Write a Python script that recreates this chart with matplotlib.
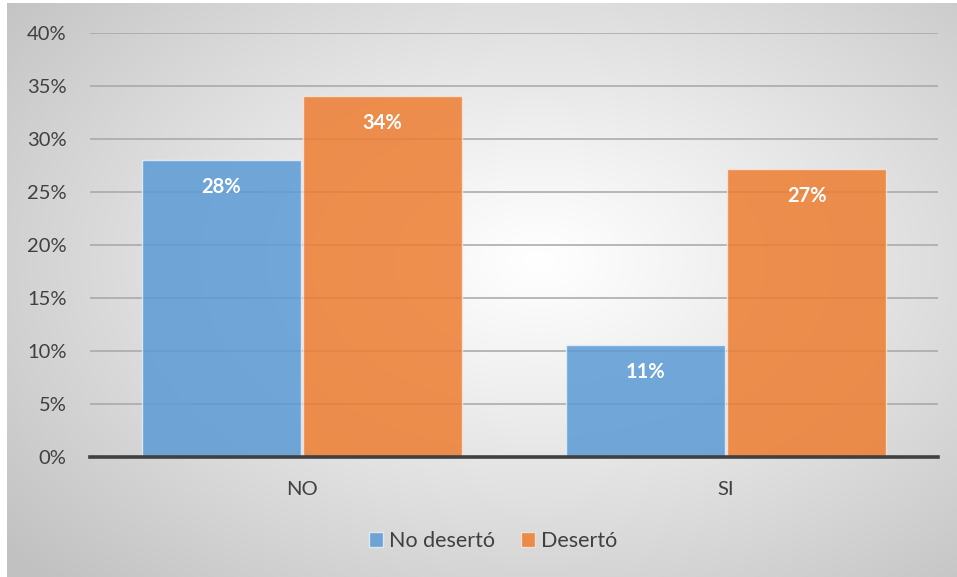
import numpy as np
import matplotlib
matplotlib.use('Agg')
import matplotlib.pyplot as plt
from matplotlib.ticker import PercentFormatter

plt.rcParams['font.family'] = ['Lato', 'DejaVu Sans']

# data
categories = ['NO', 'SI']
series_names = ['No desertó', 'Desertó']
no_deserto = [0.28, 0.106]
deserto = [0.341, 0.272]
yticks = [0, 0.05, 0.10, 0.15, 0.20, 0.25, 0.30, 0.35, 0.40]

blue = '#5B9BD5'
orange = '#ED7D31'
text_col = '#404040'

# figure size / dpi
dpi = 100
wdx = 957
wdy = 577
fig = plt.figure(figsize=[wdx/dpi, wdy/dpi], dpi=dpi)
fig.patch.set_facecolor('white')

# radial gradient background for the chart area
bg = fig.add_axes([7/wdx, 0, 950/wdx, 574/wdy], zorder=-5)
gx, gy = np.meshgrid(np.linspace(0, 1, 400), np.linspace(0, 1, 240))
r = np.sqrt(((gx - 0.56) / 0.56) ** 2 + ((gy - 0.45) / 0.6) ** 2)
r = np.clip(r / 1.3, 0, 1)
shade = 1.0 - 0.24 * r ** 1.1
bg.imshow(np.dstack([shade, shade, shade]), extent=[0, 1, 0, 1],
          aspect='auto', origin='upper', interpolation='bicubic')
bg.set_axis_off()

ax = fig.add_axes([90/wdx, 1 - 457/wdy, 848/wdx, (457 - 33)/wdy])
ax.patch.set_alpha(0)

x = np.arange(len(categories))
w = 0.375
off = 0.19
b1 = ax.bar(x - off, no_deserto, w, color=blue, alpha=0.85,
            edgecolor='#e8eef6', linewidth=1, label=series_names[0], zorder=2)
b2 = ax.bar(x + off, deserto, w, color=orange, alpha=0.85,
            edgecolor='#f6e6dc', linewidth=1, label=series_names[1], zorder=2)

for bars in (b1, b2):
    for rect in bars:
        h = rect.get_height()
        ax.annotate('{:.0f}%'.format(h * 100),
                    (rect.get_x() + rect.get_width() / 2, h),
                    xytext=(0, -27), textcoords='offset pixels',
                    ha='center', va='center', color='white',
                    fontsize=14.5, fontweight='bold', zorder=3)

ax.set_xlim(-0.5, 1.5)
ax.set_ylim(0, 0.40)
ax.set_yticks(yticks)
ax.yaxis.set_major_formatter(PercentFormatter(1.0, decimals=0))
ax.set_xticks(x)
ax.set_xticklabels(categories)
ax.tick_params(axis='y', length=0, pad=17, labelsize=14.5, labelcolor=text_col)
ax.tick_params(axis='x', length=0, pad=17, labelsize=14.5, labelcolor=text_col)
ax.grid(axis='y', color='#a6a6a6', linewidth=1.1, zorder=1)
ax.set_axisbelow(True)
for s in ['top', 'right', 'left']:
    ax.spines[s].set_visible(False)
ax.spines['bottom'].set_color('#404040')
ax.spines['bottom'].set_linewidth(2.6)
ax.spines['bottom'].set_zorder(4)

leg = fig.legend(handles=[b1, b2], labels=series_names, loc='center',
                 bbox_to_anchor=(493/wdx, 1 - 541/wdy), ncol=2, frameon=False,
                 fontsize=15.5, handlelength=0.65, handleheight=0.65,
                 handletextpad=0.3, columnspacing=1.2)
for t in leg.get_texts():
    t.set_color(text_col)

plt.savefig('out.png', dpi=dpi)
